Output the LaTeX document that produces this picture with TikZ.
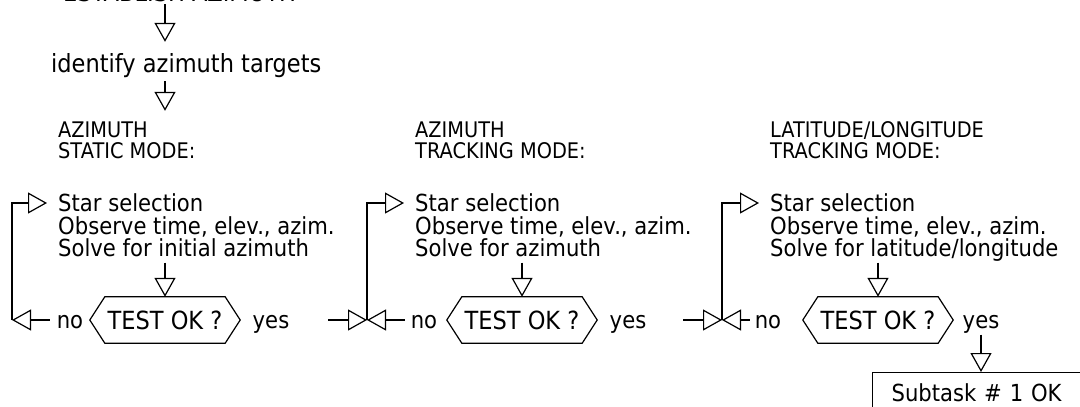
\documentclass[tikz,border=0pt]{standalone}
\usepackage{fontspec}
\setmainfont{DejaVu Sans}[FakeStretch=0.9]
\usetikzlibrary{arrows.meta}
\begin{document}
\begin{tikzpicture}[x=1pt,y=-1pt,
  every node/.style={inner sep=0pt, text height=17pt, text depth=0pt, font=\fontsize{23.5}{23.5}\selectfont},
  txt/.style={anchor=west},
  hd/.style={anchor=west, font=\fontsize{21.5}{21.5}\selectfont, text height=16pt},
  big/.style={anchor=west, font=\fontsize{25}{25}\selectfont, text height=18pt},
  ln/.style={line width=1.2pt},
  arr/.style={draw, line width=1.2pt, -{Triangle[open, length=19pt, width=21pt, line width=1.2pt]}},
  test/.style={minimum width=120pt, minimum height=46pt, font=\fontsize{25}{25}\selectfont, text height=18pt},
]
\useasboundingbox (0,0) rectangle (1080,407);

% top
\node[big] (title) at (63,-8) {ESTABLISH AZIMUTH};
\node[big] (ident) at (51,63) {identify azimuth targets};
\coordinate (s0) at (165,4);
\draw[arr, shorten >=12pt] (s0) -- (ident.north -| s0);

% headings
\node[hd] (h1a) at (58,129) {AZIMUTH};
\node[hd] (h1b) at (58,150) {STATIC MODE:};
\node[hd] (h2a) at (415,129) {AZIMUTH};
\node[hd] (h2b) at (415,150) {TRACKING MODE:};
\node[hd] (h3a) at (770,129) {LATITUDE/LONGITUDE};
\node[hd] (h3b) at (770,150) {TRACKING MODE:};
\draw[arr, shorten <=9pt, shorten >=10pt] (ident.south -| s0) -- (h1a.north -| s0);

% column texts
\node[txt] (s1a) at (58,203) {Star selection};
\node[txt] (s1b) at (58,226) {Observe time, elev., azim.};
\node[txt] (s1c) at (58,248) {Solve for initial azimuth};
\node[txt] (s2a) at (415,203) {Star selection};
\node[txt] (s2b) at (415,226) {Observe time, elev., azim.};
\node[txt] (s2c) at (415,248) {Solve for azimuth};
\node[txt] (s3a) at (770,203) {Star selection};
\node[txt] (s3b) at (770,226) {Observe time, elev., azim.};
\node[txt] (s3c) at (770,248) {Solve for latitude/longitude};

% tests
\node[test] (t1) at (165,320) {TEST OK ?};
\node[test] (t2) at (522,320) {TEST OK ?};
\node[test] (t3) at (878,320) {TEST OK ?};
\foreach \n in {t1,t2,t3}
  \draw[ln] (\n.north west) -- (\n.north east) -- ([xshift=15pt]\n.east) -- (\n.south east)
    -- (\n.south west) -- ([xshift=-15pt]\n.west) -- cycle;

\node (no1) at (70,320) {no};
\node (no2) at (424,320) {no};
\node (no3) at (768,320) {no};
\node (yes1) at (271,320) {yes};
\node (yes2) at (628,320) {yes};
\node (yes3) at (981,320) {yes};

% stems into tests
\draw[arr, shorten <=6pt] (s1c.south -| t1.north) -- (t1.north);
\draw[arr, shorten <=6pt] (s2c.south -| t2.north) -- (t2.north);
\draw[arr, shorten <=6pt] (s3c.south -| t3.north) -- (t3.north);

% loops
\coordinate (b1) at (12,320);
\draw[arr] ([xshift=-7pt]no1.west) -- (b1);
\draw[arr] (b1) |- ([xshift=-11pt]s1a.west);

\coordinate (b2) at (367,320);
\coordinate (in2) at (328,320);
\draw[arr] (in2) -- (b2);
\draw[arr] ([xshift=-6pt]no2.west) -- (b2);
\draw[arr] (b2) |- ([xshift=-11pt]s2a.west);

\coordinate (b3) at (722,320);
\coordinate (in3) at (683,320);
\draw[arr] (in3) -- (b3);
\draw[arr] ([xshift=-5pt]no3.west) -- (b3);
\draw[arr] (b3) |- ([xshift=-11pt]s3a.west);

% final box
\node[draw, ln, anchor=north west, minimum height=40pt, text width=220pt, inner xsep=19pt, align=left] (box) at (872,372) {Subtask \# 1 OK};
\draw[arr, shorten <=6pt] (yes3.south) -- (box.north -| yes3.south);
\end{tikzpicture}
\end{document}
